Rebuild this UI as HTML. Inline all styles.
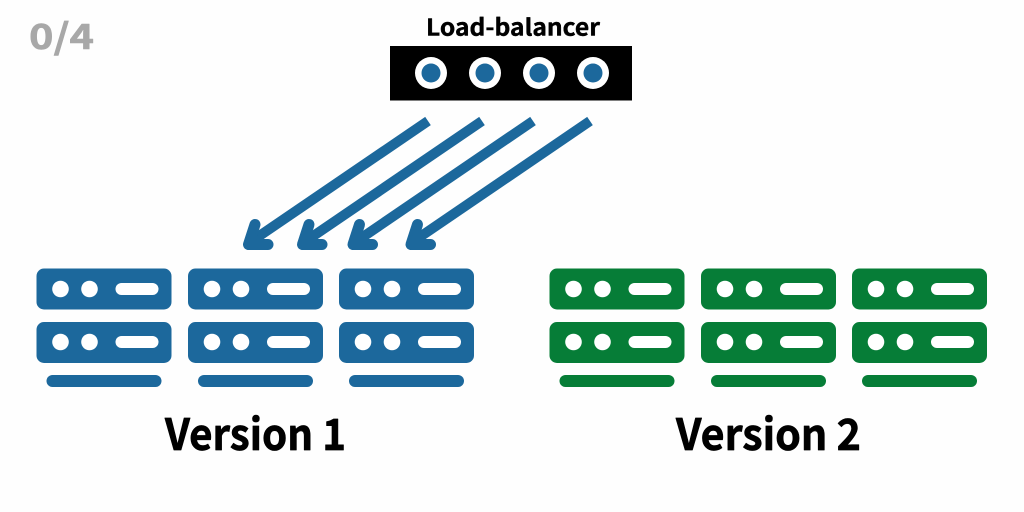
<!DOCTYPE html>
<html>
<head>
<meta charset="utf-8">
<style>
html,body{margin:0;padding:0;background:#fefefe;width:1024px;height:512px;overflow:hidden}
svg{display:block}
text{font-family:"Noto Sans CJK JP","Liberation Sans",sans-serif;font-weight:700;stroke-linejoin:round}
</style>
</head>
<body>
<svg width="1024" height="512" viewBox="0 0 1024 512" xmlns="http://www.w3.org/2000/svg">
<defs>
<g id="srv">
<rect x="0" y="0" width="135" height="41" rx="7.500"/>
<rect x="0" y="53.500" width="135" height="41" rx="7.500"/>
<rect x="10" y="106.500" width="115" height="12" rx="6"/>
<g fill="#fff">
<circle cx="24" cy="20.500" r="8.300"/><circle cx="53" cy="20.500" r="8.300"/>
<rect x="79" y="14.500" width="43" height="12" rx="6"/>
<circle cx="24" cy="73.500" r="8.300"/><circle cx="53" cy="73.500" r="8.300"/>
<rect x="79" y="67.500" width="43" height="12" rx="6"/>
</g>
</g>
<g id="head">
<path d="M12 -25L5.500 -5L25 -5" fill="none" stroke="#1c689c" stroke-width="11" stroke-linecap="round" stroke-linejoin="round"/>
<path d="M5.500 -5L9.500 -17L20 -5Z" fill="#1c689c" stroke="#1c689c" stroke-width="3" stroke-linejoin="round"/>
</g>
</defs>
<text x="29" y="49" font-size="35" fill="#a8a8a8" stroke="#a8a8a8" stroke-width="0.600" textLength="65" lengthAdjust="spacingAndGlyphs">0/4</text>
<text x="426" y="35.500" font-size="23" fill="#000" stroke="#000" stroke-width="0.400" textLength="174" lengthAdjust="spacingAndGlyphs">Load-balancer</text>
<rect x="390" y="46" width="242" height="54.500" fill="#000"/>
<g fill="#fff"><circle cx="431" cy="73" r="16"/><circle cx="485" cy="73" r="16"/><circle cx="539" cy="73" r="16"/><circle cx="593" cy="73" r="16"/></g>
<g fill="#1c689c"><circle cx="431" cy="73" r="9.500"/><circle cx="485" cy="73" r="9.500"/><circle cx="539" cy="73" r="9.500"/><circle cx="593" cy="73" r="9.500"/></g>
<g fill="none" stroke="#1c689c" stroke-width="10">
<path d="M428 121L249 243"/><path d="M482 121L303 243"/><path d="M533 121L354 243"/><path d="M590 121L411 243"/>
</g>
<use href="#head" x="243" y="249.500"/>
<use href="#head" x="297" y="249.500"/>
<use href="#head" x="347.500" y="249.500"/>
<use href="#head" x="405.500" y="249.500"/>
<use href="#srv" x="36.500" y="268.500" fill="#1c689c"/>
<use href="#srv" x="188" y="268.500" fill="#1c689c"/>
<use href="#srv" x="339" y="268.500" fill="#1c689c"/>
<use href="#srv" x="549.500" y="268.500" fill="#067d37"/>
<use href="#srv" x="701" y="268.500" fill="#067d37"/>
<use href="#srv" x="852" y="268.500" fill="#067d37"/>
<text x="165" y="450" font-size="43" fill="#000" stroke="#000" stroke-width="0.700" textLength="181" lengthAdjust="spacingAndGlyphs">Version 1</text>
<text x="676" y="450" font-size="43" fill="#000" stroke="#000" stroke-width="0.700" textLength="185" lengthAdjust="spacingAndGlyphs">Version 2</text>
</svg>
</body>
</html>
